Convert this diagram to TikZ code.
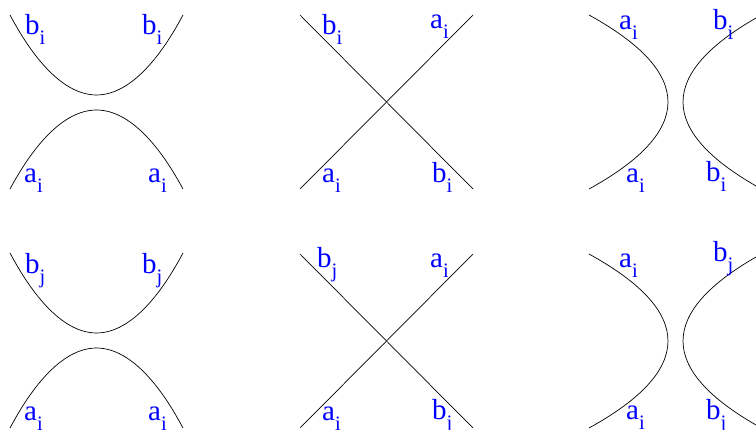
\documentclass[tikz,border=0pt]{standalone}
\usepackage{fontspec}
\setmainfont{Liberation Serif}
\newcommand{\lbl}[2]{#1\raisebox{-0.33em}{\fontsize{20.5}{20.5}\selectfont #2}}
\tikzset{
  lb/.style={anchor=base west,inner sep=0pt,text=blue,font=\fontsize{29}{29}\selectfont},
  ln/.style={line width=0.7pt,black},
}

\begin{document}
\begin{tikzpicture}[x=1pt,y=-1pt]
  \useasboundingbox (0,0) rectangle (756,430);

  % top row
  \coordinate (p1a) at (10,15);   \coordinate (p1b) at (183,15);
  \coordinate (p1c) at (10,189);  \coordinate (p1d) at (183,189);
  \draw[ln] (p1a) parabola bend (96.5,95) (p1b);
  \draw[ln] (p1c) parabola bend (96.5,110) (p1d);
  \node[lb] (t1) at (25,35)  {\lbl{b}{i}};
  \node[lb] (t2) at (142,35) {\lbl{b}{i}};
  \node[lb] (t3) at (24,183) {\lbl{a}{i}};
  \node[lb] (t4) at (148,183) {\lbl{a}{i}};

  \coordinate (p2a) at (300,15);  \coordinate (p2b) at (473,15);
  \coordinate (p2c) at (300,189); \coordinate (p2d) at (473,189);
  \draw[ln] (p2a) -- (p2d);
  \draw[ln] (p2c) -- (p2b);
  \node[lb] (t5) at (322,35)  {\lbl{b}{i}};
  \node[lb] (t6) at (430,29)  {\lbl{a}{i}};
  \node[lb] (t7) at (322,183) {\lbl{a}{i}};
  \node[lb] (t8) at (432,183) {\lbl{b}{i}};

  \coordinate (p3a) at (589,15);  \coordinate (p3b) at (589,189);
  \coordinate (p3c) at (756,18);  \coordinate (p3d) at (756,186);
  \draw[ln] (p3a) .. controls (694.3,73) and (694.3,131) .. (p3b);
  \draw[ln] (p3c) .. controls (658.7,74) and (658.7,130) .. (p3d);
  \node[lb] (t9)  at (619,30)  {\lbl{a}{i}};
  \node[lb] (t10) at (713,30)  {\lbl{b}{i}};
  \node[lb] (t11) at (626,183) {\lbl{a}{i}};
  \node[lb] (t12) at (706,182) {\lbl{b}{i}};

  % bottom row
  \coordinate (q1a) at (10,253);  \coordinate (q1b) at (183,253);
  \coordinate (q1c) at (10,428);  \coordinate (q1d) at (183,428);
  \draw[ln] (q1a) parabola bend (96.5,333) (q1b);
  \draw[ln] (q1c) parabola bend (96.5,348) (q1d);
  \node[lb] (u1) at (25,274)  {\lbl{b}{j}};
  \node[lb] (u2) at (142,274) {\lbl{b}{j}};
  \node[lb] (u3) at (24,421)  {\lbl{a}{i}};
  \node[lb] (u4) at (148,421) {\lbl{a}{i}};

  \coordinate (q2a) at (300,254); \coordinate (q2b) at (473,254);
  \coordinate (q2c) at (300,428); \coordinate (q2d) at (473,428);
  \draw[ln] (q2a) -- (q2d);
  \draw[ln] (q2c) -- (q2b);
  \node[lb] (u5) at (317,268) {\lbl{b}{j}};
  \node[lb] (u6) at (430,268) {\lbl{a}{i}};
  \node[lb] (u7) at (322,421) {\lbl{a}{i}};
  \node[lb] (u8) at (432,420) {\lbl{b}{j}};

  \coordinate (q3a) at (589,254); \coordinate (q3b) at (589,428);
  \coordinate (q3c) at (756,257); \coordinate (q3d) at (756,425);
  \draw[ln] (q3a) .. controls (694.3,312) and (694.3,370) .. (q3b);
  \draw[ln] (q3c) .. controls (658.7,313) and (658.7,369) .. (q3d);
  \node[lb] (u9)  at (619,268) {\lbl{a}{i}};
  \node[lb] (u10) at (713,262) {\lbl{b}{j}};
  \node[lb] (u11) at (626,420) {\lbl{a}{i}};
  \node[lb] (u12) at (706,420) {\lbl{b}{j}};
\end{tikzpicture}
\end{document}
